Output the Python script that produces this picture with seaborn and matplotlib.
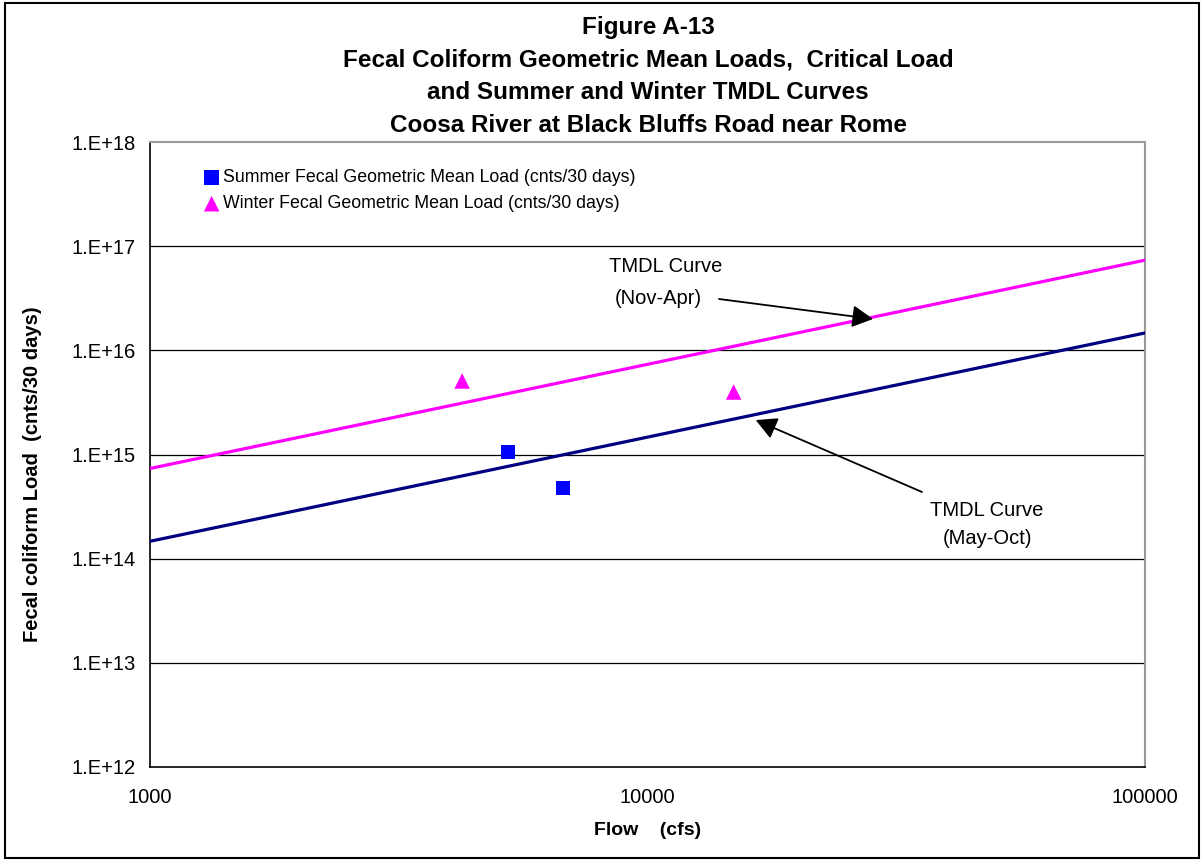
import matplotlib
matplotlib.use("Agg")
import matplotlib.pyplot as plt
import matplotlib.ticker as mticker
from matplotlib.patches import Rectangle
import pandas as pd
import seaborn as sns

# Observed geometric mean loads
summer_flow = [5240, 6760]
summer_load = [1.06e15, 4.77e14]
winter_flow = [4240, 14900]
winter_load = [5.08e15, 3.98e15]

# TMDL curves (load vs. flow)
curve_flow = [1000, 100000]
summer_tmdl = [1.468e14, 1.468e16]
winter_tmdl = [7.34e14, 7.34e16]

y_ticks = [1e12, 1e13, 1e14, 1e15, 1e16, 1e17, 1e18]
y_tick_labels = ["1.E+12", "1.E+13", "1.E+14", "1.E+15", "1.E+16", "1.E+17", "1.E+18"]
x_ticks = [1000, 10000, 100000]
x_tick_labels = ["1000", "10000", "100000"]

title_lines = [
    "Figure A-13",
    "Fecal Coliform Geometric Mean Loads,  Critical Load",
    "and Summer and Winter TMDL Curves",
    "Coosa River at Black Bluffs Road near Rome",
]

sns.set_style("white")
plt.rcParams["font.family"] = ["Liberation Sans", "DejaVu Sans"]
plt.rcParams["text.color"] = "black"
plt.rcParams["axes.labelcolor"] = "black"
plt.rcParams["xtick.color"] = "black"
plt.rcParams["ytick.color"] = "black"

W, H = 1203, 861
fig = plt.figure(figsize=(W / 100, H / 100), dpi=100)
ax = fig.add_axes([150 / W, 1 - 767 / H, 995 / W, 625 / H])

summer_pts = pd.DataFrame({"flow": summer_flow, "load": summer_load})
winter_pts = pd.DataFrame({"flow": winter_flow, "load": winter_load})
summer_curve = pd.DataFrame({"flow": curve_flow, "load": summer_tmdl})
winter_curve = pd.DataFrame({"flow": curve_flow, "load": winter_tmdl})

ax.set_xscale("log")
ax.set_yscale("log")

sns.lineplot(data=winter_curve, x="flow", y="load", ax=ax, color="#FF00FF",
             linewidth=2.3, legend=False, zorder=3)
sns.lineplot(data=summer_curve, x="flow", y="load", ax=ax, color="#000080",
             linewidth=2.3, legend=False, zorder=3)
sns.scatterplot(data=summer_pts, x="flow", y="load", ax=ax, marker="s", s=112,
                color="#0000FF", edgecolor="none", zorder=4,
                label="Summer Fecal Geometric Mean Load (cnts/30 days)")
sns.scatterplot(data=winter_pts, x="flow", y="load", ax=ax, marker="^", s=125,
                color="#FF00FF", edgecolor="none", zorder=4,
                label="Winter Fecal Geometric Mean Load (cnts/30 days)")

ax.set_xlim(1000, 100000)
ax.set_ylim(1e12, 1e18)

ax.yaxis.set_major_locator(mticker.FixedLocator(y_ticks))
ax.yaxis.set_major_formatter(mticker.FixedFormatter(y_tick_labels))
ax.xaxis.set_major_locator(mticker.FixedLocator(x_ticks))
ax.xaxis.set_major_formatter(mticker.FixedFormatter(x_tick_labels))
ax.yaxis.set_minor_locator(mticker.NullLocator())
ax.xaxis.set_minor_locator(mticker.NullLocator())

ax.tick_params(axis="both", which="major", direction="out", length=6, width=1,
               color="black", labelsize=14.5, pad=4)
ax.tick_params(axis="x", pad=9)

for t in y_ticks[1:-1]:
    ax.axhline(t, color="black", linewidth=0.9, zorder=1)

for side in ("left", "bottom"):
    ax.spines[side].set_color("black")
    ax.spines[side].set_linewidth(1.2)
for side in ("top", "right"):
    ax.spines[side].set_color("#999999")
    ax.spines[side].set_linewidth(1.5)

ax.set_xlabel("Flow    (cfs)", fontsize=14, fontweight="bold", labelpad=11)
ax.set_ylabel("Fecal coliform Load  (cnts/30 days)", fontsize=14.5,
              fontweight="bold")
ax.yaxis.set_label_coords((42 - 150) / 995, (767 - 474) / 625)

ax.legend(loc="upper left", bbox_to_anchor=(0.045, 0.968), frameon=False,
          fontsize=12.8, handletextpad=0.1, borderaxespad=0,
          labelspacing=0.52, handlelength=1.1, markerscale=1.0)

# Curve labels, placed in figure pixels (origin bottom-left)
def fig_px(x, y):
    return (x, H - y)

for txt, (px, py) in [("TMDL Curve", (609, 267)), ("(Nov-Apr)", (615, 298)),
                      ("TMDL Curve", (930, 510)), ("(May-Oct)", (943, 538))]:
    ax.annotate(txt, xy=fig_px(px, py), xycoords="figure pixels",
                ha="left", va="center", fontsize=14.5)

arrow = dict(arrowstyle="-|>,head_length=0.85,head_width=0.45",
             color="black", lw=1.3, shrinkA=0, shrinkB=0, mutation_scale=15)
ax.annotate("", xy=(28400, 2.0e16), xycoords="data",
            xytext=fig_px(719, 299), textcoords="figure pixels", arrowprops=arrow)
ax.annotate("", xy=(16500, 2.14e15), xycoords="data",
            xytext=fig_px(922, 492), textcoords="figure pixels", arrowprops=arrow)

for line, py in zip(title_lines, [34, 67, 99, 132]):
    fig.text(648 / W, 1 - py / H, line, ha="center", va="baseline",
             fontsize=17.5, fontweight="bold")

fig.patches.append(Rectangle((0.004, 0.003), 0.993, 0.994, transform=fig.transFigure,
                             fill=False, edgecolor="black", linewidth=1.5))

fig.savefig("out.png", dpi=100, facecolor="white")
